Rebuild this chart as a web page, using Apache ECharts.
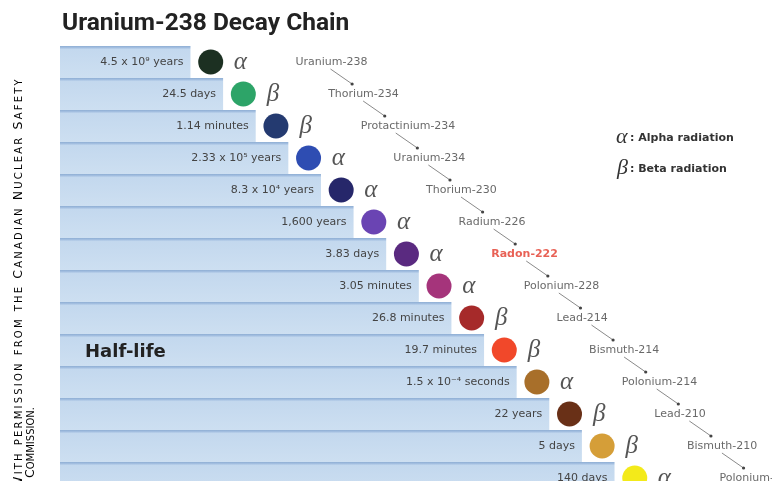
<!DOCTYPE html>
<html>
<head>
<meta charset="utf-8">
<script src="https://cdn.jsdelivr.net/npm/echarts@6/dist/echarts.min.js"></script>
<style>html,body{margin:0;padding:0;background:#fff;overflow:hidden;}#c{width:772px;height:496px;}</style>
</head>
<body>
<div id="c"></div>
<script>
// ---- data ----
var nuclides = ['Uranium-238','Thorium-234','Protactinium-234','Uranium-234','Thorium-230','Radium-226','Radon-222','Polonium-228','Lead-214','Bismuth-214','Polonium-214','Lead-210','Bismuth-210','Polonium-210'];
var halfLives = ['4.5 x 10\u2079 years','24.5 days','1.14 minutes','2.33 x 10\u2075 years','8.3 x 10\u2074 years','1,600 years','3.83 days','3.05 minutes','26.8 minutes','19.7 minutes','1.5 x 10\u207B\u2074 seconds','22 years','5 days','140 days'];
var decayTypes = ['\u03B1','\u03B2','\u03B2','\u03B1','\u03B1','\u03B1','\u03B1','\u03B1','\u03B2','\u03B2','\u03B1','\u03B2','\u03B2','\u03B1'];
var steps = [4,5,6,7,8,9,10,11,12,13,14,15,16,17];
var nuclideColors = ['#1c3022','#2da468','#243a70','#2e4db2','#26276a','#6a44b3','#5a2a80','#a5347b','#a62a2a','#f1482a','#a86f2a','#693017','#d59e38','#f3ea1a'];
var highlighted = 'Radon-222';

// ---- layout helpers ----
var circleOff = 0.62, greekOff = 1.53, nameOff = 3.22;

var cats = nuclides.map(function(n, i){ return String(i); });

var barData = steps.map(function(v){ return v; });
var circleData = steps.map(function(v, i){
  return { value: [v + circleOff, i], itemStyle: { color: nuclideColors[i] } };
});
var greekData = steps.map(function(v, i){
  return { value: [v + greekOff, i], label: { formatter: decayTypes[i] } };
});
var nameData = steps.map(function(v, i){
  var d = { value: [v + nameOff, i], label: { formatter: nuclides[i] } };
  if (nuclides[i] === highlighted) { d.label.color = '#e2392a'; d.label.fontWeight = 'bold'; }
  return d;
});
var linkData = [];
for (var i = 0; i < steps.length - 1; i++) linkData.push([i, steps[i] + nameOff, steps[i+1] + nameOff]);

function smallCaps(str, spaced){
  var out = '';
  var sfx = spaced ? 'p' : '';
  for (var k = 0; k < str.length; k++){
    var ch = str[k];
    if (ch === ' ') { out += '{s' + sfx + '| }'; continue; }
    if (ch !== ch.toLowerCase()) out += '{a' + sfx + '|' + ch + '}';
    else out += '{b' + sfx + '|' + ch.toUpperCase() + '}';
  }
  return out;
}
var pad = [0, 1.1, 0, 1.1];
var capRich = {
  a: { fontSize: 12.5, fontFamily: 'DejaVu Sans', color: '#4a4a4a' },
  b: { fontSize: 10, fontFamily: 'DejaVu Sans', color: '#4a4a4a' },
  s: { fontSize: 12, fontFamily: 'DejaVu Sans', color: '#4a4a4a' },
  ap: { fontSize: 12.5, fontFamily: 'DejaVu Sans', color: '#4a4a4a', padding: pad },
  bp: { fontSize: 10, fontFamily: 'DejaVu Sans', color: '#4a4a4a', padding: pad },
  sp: { fontSize: 12, fontFamily: 'DejaVu Sans', color: '#4a4a4a', padding: pad }
};

var chart = echarts.init(document.getElementById('c'));
chart.setOption({
  animation: false,
  backgroundColor: '#ffffff',
  title: {
    text: 'Uranium-238 Decay Chain',
    left: 57, top: 6,
    textStyle: { fontFamily: 'Roboto', fontWeight: 'bold', fontSize: 24.5, color: '#222' }
  },
  grid: { left: 60, top: 46, width: 685, height: 448, containLabel: false },
  xAxis: { type: 'value', min: 0, max: 21, show: false },
  yAxis: { type: 'category', data: cats, inverse: true, show: false, boundaryGap: true },
  series: [
    {
      type: 'bar', data: barData, barWidth: '100%', barCategoryGap: 0, silent: true,
      itemStyle: {
        color: new echarts.graphic.LinearGradient(0, 0, 0, 1, [
          { offset: 0, color: '#8eaed4' },
          { offset: 0.06, color: '#a6c1e2' },
          { offset: 0.1, color: '#c3d8ee' },
          { offset: 1, color: '#cddff1' }
        ])
      },
      label: {
        show: true, position: 'insideRight', distance: 7,
        formatter: function(p){ return halfLives[p.dataIndex]; },
        fontFamily: 'DejaVu Sans', fontSize: 11, color: '#444'
      }
    },
    {
      type: 'scatter', data: circleData, symbol: 'circle', symbolSize: 25, silent: true,
      itemStyle: { opacity: 1 }
    },
    {
      type: 'scatter', data: greekData, symbolSize: 0, silent: true,
      label: { show: true, position: 'inside', fontFamily: 'Liberation Serif', fontStyle: 'italic', fontSize: 25, color: '#2a2a2a' }
    },
    {
      type: 'scatter', data: nameData, symbolSize: 0, silent: true,
      label: { show: true, position: 'right', distance: 0, fontFamily: 'DejaVu Sans', fontSize: 11, color: '#444' }
    },
    {
      type: 'custom', data: linkData, silent: true, clip: false,
      encode: { x: [1, 2], y: 0 },
      renderItem: function(params, api){
        var idx = api.value(0);
        var a = api.coord([api.value(1), idx]);
        var b = api.coord([api.value(2), idx + 1]);
        var x1 = a[0] + 35, y1 = a[1] + 7, x2 = b[0] + 24, y2 = b[1] - 10;
        return { type: 'group', children: [
          { type: 'line', shape: { x1: x1, y1: y1, x2: x2, y2: y2 }, style: { stroke: '#8a8a8a', lineWidth: 1 } },
          { type: 'circle', shape: { cx: x2, cy: y2, r: 1.6 }, style: { fill: '#444' } }
        ]};
      }
    }
  ],
  graphic: [
    { type: 'text', z: 100, x: 85, y: 352, style: { text: 'Half-life', fontFamily: 'DejaVu Sans', fontWeight: 'bold', fontSize: 18, fill: '#222', verticalAlign: 'middle' } },
    { type: 'text', z: 100, x: 616, y: 137, style: { text: '\u03B1', fontFamily: 'Liberation Serif', fontStyle: 'italic', fontSize: 22, fill: '#333', verticalAlign: 'middle' } },
    { type: 'text', z: 100, x: 630, y: 138, style: { text: ': Alpha radiation', fontFamily: 'DejaVu Sans', fontWeight: 'bold', fontSize: 11, fill: '#333', verticalAlign: 'middle' } },
    { type: 'text', z: 100, x: 617, y: 168, style: { text: '\u03B2', fontFamily: 'Liberation Serif', fontStyle: 'italic', fontSize: 22, fill: '#333', verticalAlign: 'middle' } },
    { type: 'text', z: 100, x: 630, y: 169, style: { text: ': Beta radiation', fontFamily: 'DejaVu Sans', fontWeight: 'bold', fontSize: 11, fill: '#333', verticalAlign: 'middle' } },
    { type: 'text', z: 100, x: 19, y: 490, rotation: Math.PI / 2, style: { text: smallCaps('With permission from the Canadian Nuclear Safety', true), rich: capRich, align: 'left', verticalAlign: 'middle' } },
    { type: 'text', z: 100, x: 31, y: 478, rotation: Math.PI / 2, style: { text: smallCaps('Commission.', false), rich: capRich, align: 'left', verticalAlign: 'middle' } }
  ]
});
</script>
</body>
</html>
